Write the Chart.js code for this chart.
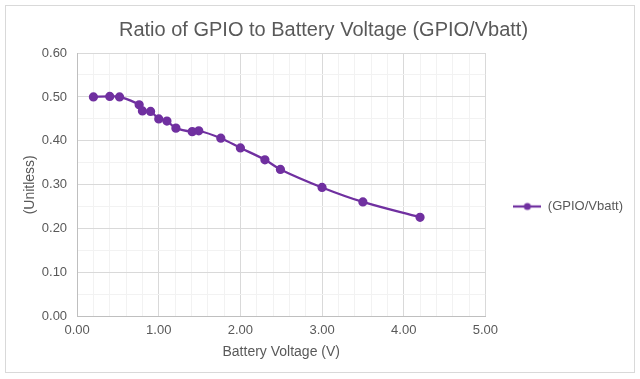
<!DOCTYPE html>
<html>
<head>
<meta charset="utf-8">
<script src="https://cdn.jsdelivr.net/npm/chart.js@4"></script>
<style>
  html, body { margin: 0; padding: 0; background: #fff; }
  #frame { position: absolute; left: 5px; top: 5px; width: 628px; height: 366px; border: 1px solid #d9d9d9; }
</style>
</head>
<body>
<div id="frame"><canvas id="ratio-chart" width="628" height="366"></canvas></div>
<script>
const voltage = [0.2, 0.4, 0.52, 0.76, 0.8, 0.9, 1.0, 1.1, 1.21, 1.41, 1.49, 1.76, 2.0, 2.3, 2.49, 3.0, 3.5, 4.2];
const ratio = [0.500, 0.501, 0.500, 0.482, 0.468, 0.467, 0.450, 0.445, 0.429, 0.421, 0.423, 0.406, 0.384, 0.357, 0.335, 0.294, 0.261, 0.226];
const seriesName = '(GPIO/Vbatt)';
const purple = '#7030a0';
const textGrey = '#595959';

function legend_marker() {
  let c = document.createElement('canvas');
  c.width = 28; c.height = 10;
  let g = c.getContext('2d');
  g.strokeStyle = purple; g.lineWidth = 2.25;
  g.beginPath(); g.moveTo(0, 5); g.lineTo(28, 5); g.stroke();
  g.fillStyle = purple;
  g.beginPath(); g.arc(14, 5, 3.5, 0, Math.PI * 2); g.fill();
  return c;
}

function is_major(v, step) {
  let q = v / step;
  return Math.abs(q - Math.round(q)) < 1e-6;
}

// Excel puts the legend a bit below the middle of the plot and further right,
// and the title sits slightly right of centre
const layoutNudge = {
  id: 'layoutNudge',
  afterLayout(chart) {
    let l = chart.legend;
    l.top += 23; l.bottom += 23;
    l.left += 22; l.right += 22;
    let t = chart.titleBlock;
    t.left += 9; t.right += 9;
  }
};

draw_chart('ratio-chart');

function draw_chart(target) {
  let ctx = document.getElementById(target).getContext('2d');
  let marker = legend_marker();
  let font = { family: '"Liberation Sans", Arial, sans-serif' };
  new Chart(ctx, {
    type: 'scatter',
    data: {
      datasets: [{
        label: seriesName,
        data: voltage.map((v, i) => ({ x: v, y: ratio[i] })),
        showLine: true,
        tension: 0.35,
        borderColor: purple,
        backgroundColor: purple,
        borderWidth: 2.25,
        pointRadius: 3.5,
        pointHoverRadius: 3.5
      }]
    },
    plugins: [layoutNudge],
    options: {
      animation: false,
      responsive: false,
      layout: { padding: { left: 12, right: 23, top: 0, bottom: 11 } },
      plugins: {
        title: {
          display: true,
          text: 'Ratio of GPIO to Battery Voltage (GPIO/Vbatt)',
          color: textGrey,
          font: { ...font, size: 20, weight: 'normal' },
          padding: { top: 12, bottom: 11 }
        },
        legend: {
          position: 'right',
          labels: {
            usePointStyle: true,
            pointStyleWidth: 28,
            padding: 6,
            color: textGrey,
            font: { ...font, size: 13 },
            generateLabels: (chart) => [{
              text: seriesName,
              pointStyle: marker,
              fontColor: textGrey,
              datasetIndex: 0
            }]
          }
        },
        tooltip: { enabled: false }
      },
      scales: {
        x: {
          type: 'linear',
          min: 0, max: 5,
          title: { display: true, text: 'Battery Voltage (V)', color: textGrey, font: { ...font, size: 14 }, padding: { top: 0, bottom: 0 } },
          ticks: {
            stepSize: 0.2, autoSkip: false, maxRotation: 0, color: textGrey, padding: 6,
            font: { ...font, size: 13 },
            callback: (v) => is_major(v, 1) ? v.toFixed(2) : ''
          },
          grid: {
            drawTicks: false,
            color: (c) => is_major(c.tick.value, 1) ? '#d9d9d9' : '#f2f2f2'
          },
          border: { color: '#bfbfbf' }
        },
        y: {
          min: 0, max: 0.6,
          title: { display: true, text: '(Unitless)', color: textGrey, font: { ...font, size: 14 }, padding: { top: 4, bottom: -7 } },
          ticks: {
            stepSize: 0.05, autoSkip: false, color: textGrey, padding: 10,
            font: { ...font, size: 13 },
            callback: (v) => is_major(v, 0.1) ? v.toFixed(2) : ''
          },
          grid: {
            drawTicks: false,
            color: (c) => is_major(c.tick.value, 0.1) ? '#d9d9d9' : '#f2f2f2'
          },
          border: { color: '#bfbfbf' }
        }
      }
    }
  });
}
</script>
</body>
</html>
